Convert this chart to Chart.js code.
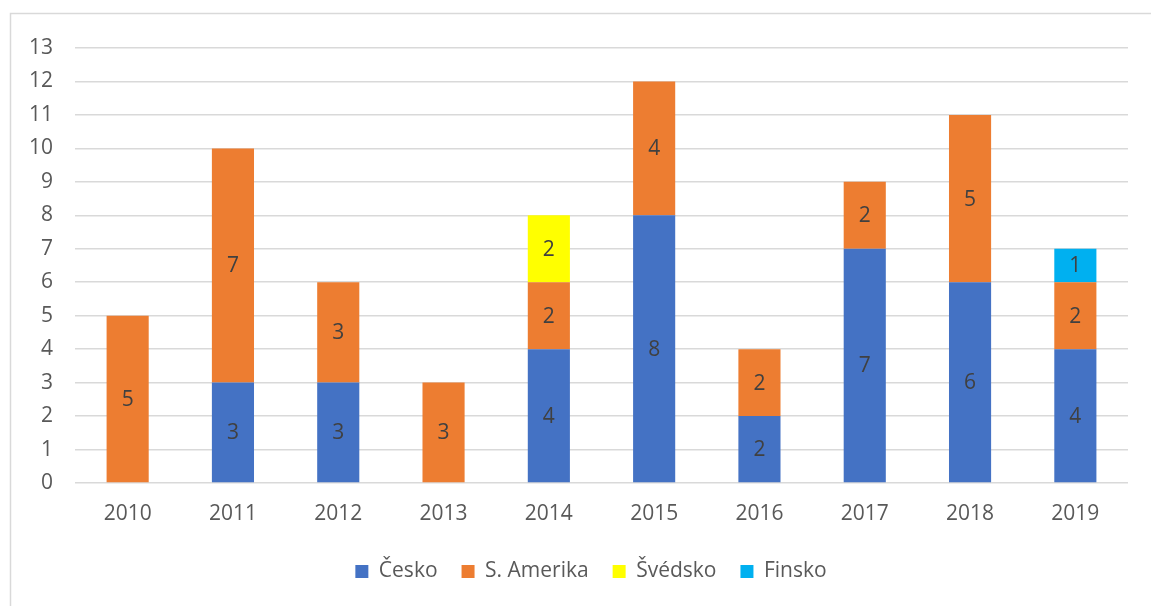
<!DOCTYPE html>
<html>
<head>
<meta charset="utf-8">
<script src="https://cdn.jsdelivr.net/npm/chart.js@4"></script>
<style>
  html, body { margin: 0; padding: 0; background: #fff; }
  #wrap { width: 1151px; height: 606px; position: relative; }
</style>
</head>
<body>
<div id="wrap"><canvas id="chart" width="1151" height="606"></canvas></div>
<script>
(function () {
    'use strict';

    // Data.
    var YEARS    = ['2010', '2011', '2012', '2013', '2014', '2015', '2016', '2017', '2018', '2019'];
    var CESKO    = [0, 3, 3, 0, 4, 8, 2, 7, 6, 4];
    var AMERIKA  = [5, 7, 3, 3, 2, 4, 2, 2, 5, 2];
    var SVEDSKO  = [0, 0, 0, 0, 2, 0, 0, 0, 0, 0];
    var FINSKO   = [0, 0, 0, 0, 0, 0, 0, 0, 0, 1];
    var Y_MAX    = 13;

    var FONT      = '"Open Sans", "DejaVu Sans", sans-serif';
    var FONT_SIZE = 21;
    var TEXT_GREY = '#595959';
    var GRID_GREY = '#d9d9d9';

    // Value labels in the middle of each bar segment.
    var segmentLabels = {
        id: 'segmentLabels',
        afterDatasetsDraw: function (chart) {
            var ctx = chart.ctx;
            ctx.save();
            ctx.font = FONT_SIZE + 'px ' + FONT;
            ctx.fillStyle = '#404040';
            ctx.textAlign = 'center';
            ctx.textBaseline = 'middle';
            chart.data.datasets.forEach(function (ds, i) {
                var meta = chart.getDatasetMeta(i);
                meta.data.forEach(function (bar, j) {
                    var v = ds.data[j];
                    if (!v) return;
                    ctx.fillText(String(v), bar.x, (bar.y + bar.base) / 2 + 1);
                });
            });
            ctx.restore();
        }
    };

    // Light frame round the chart (top and left edge visible).
    var frame = {
        id: 'frame',
        beforeDraw: function (chart) {
            var ctx = chart.ctx;
            ctx.save();
            ctx.strokeStyle = GRID_GREY;
            ctx.lineWidth = 1.5;
            ctx.beginPath();
            ctx.moveTo(10.5, chart.height);
            ctx.lineTo(10.5, 13.5);
            ctx.lineTo(chart.width, 13.5);
            ctx.stroke();
            ctx.restore();
        }
    };

    // Nudge the legend so it sits under the plot like the original.
    var legendShift = {
        id: 'legendShift',
        afterLayout: function (chart) {
            if (!chart.legend) return;
            chart.legend.left += 27;
            chart.legend.right += 27;
        }
    };

    function ds(label, data, color) {
        return {
            label: label,
            data: data,
            backgroundColor: color,
            borderWidth: 0,
            categoryPercentage: 0.8,
            barPercentage: 0.5
        };
    }

    new Chart(document.getElementById('chart').getContext('2d'), {
        type: 'bar',
        data: {
            labels: YEARS,
            datasets: [
                ds('Česko',      CESKO,   '#4472c4'),
                ds('S. Amerika', AMERIKA, '#ed7d31'),
                ds('Švédsko',    SVEDSKO, '#ffff00'),
                ds('Finsko',     FINSKO,  '#00b0f0')
            ]
        },
        options: {
            responsive: false,
            animation: false,
            layout: { padding: { top: 48, right: 23, left: 0, bottom: 14 } },
            plugins: {
                tooltip: { enabled: false },
                legend: {
                    position: 'bottom',
                    labels: {
                        boxWidth: 13,
                        boxHeight: 13,
                        padding: 24,
                        color: TEXT_GREY,
                        font: { family: FONT, size: FONT_SIZE }
                    }
                }
            },
            scales: {
                x: {
                    stacked: true,
                    grid: { display: false },
                    border: { display: false },
                    ticks: { color: TEXT_GREY, padding: 10, font: { family: FONT, size: FONT_SIZE } },
                    afterFit: function (scale) { scale.height = 54; }
                },
                y: {
                    stacked: true,
                    min: 0,
                    max: Y_MAX,
                    grid: { color: GRID_GREY, lineWidth: 1.5, drawTicks: false },
                    border: { display: false },
                    ticks: { stepSize: 1, color: TEXT_GREY, padding: 22, font: { family: FONT, size: FONT_SIZE } },
                    afterFit: function (scale) { scale.width = 75; }
                }
            }
        },
        plugins: [frame, legendShift, segmentLabels]
    });
}());
</script>
</body>
</html>
